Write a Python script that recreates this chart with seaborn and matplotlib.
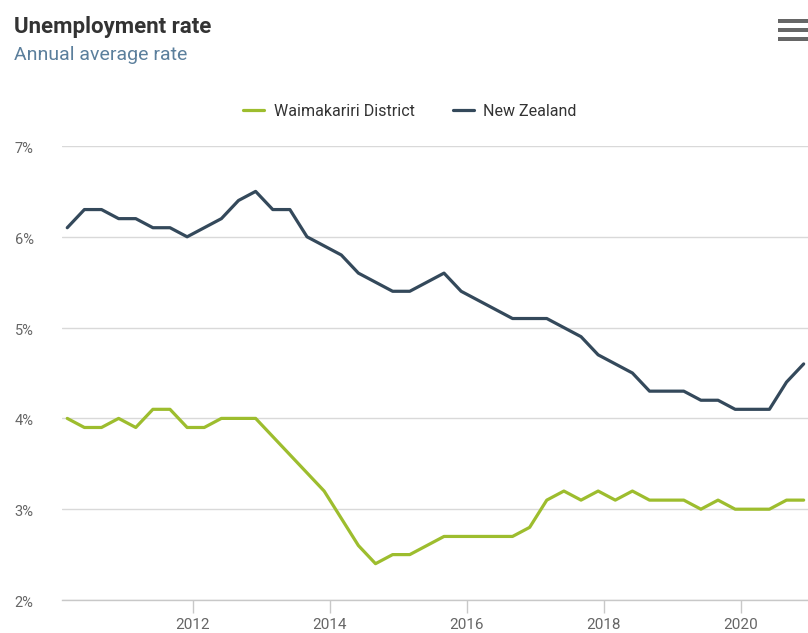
import numpy as np
import pandas as pd
import matplotlib
matplotlib.use("Agg")
import matplotlib.pyplot as plt
import matplotlib.transforms as mtransforms
from matplotlib.patches import Rectangle
from matplotlib.lines import Line2D
import seaborn as sns

# Quarterly observations, March 2010 to December 2020
start_year, start_month = 2010, 3
waimakariri = [4.0, 3.9, 3.9, 4.0, 3.9, 4.1, 4.1, 3.9, 3.9, 4.0, 4.0, 4.0,
               3.8, 3.6, 3.4, 3.2, 2.9, 2.6, 2.4, 2.5, 2.5, 2.6, 2.7, 2.7,
               2.7, 2.7, 2.7, 2.8, 3.1, 3.2, 3.1, 3.2, 3.1, 3.2, 3.1, 3.1,
               3.1, 3.0, 3.1, 3.0, 3.0, 3.0, 3.1, 3.1]
new_zealand = [6.1, 6.3, 6.3, 6.2, 6.2, 6.1, 6.1, 6.0, 6.1, 6.2, 6.4, 6.5,
               6.3, 6.3, 6.0, 5.9, 5.8, 5.6, 5.5, 5.4, 5.4, 5.5, 5.6, 5.4,
               5.3, 5.2, 5.1, 5.1, 5.1, 5.0, 4.9, 4.7, 4.6, 4.5, 4.3, 4.3,
               4.3, 4.2, 4.2, 4.1, 4.1, 4.1, 4.4, 4.6]
series_names = ["Waimakariri District", "New Zealand"]
year_ticks = [2012, 2014, 2016, 2018, 2020]
pct_ticks = [2, 3, 4, 5, 6, 7]

n = len(new_zealand)
months = start_month - 1 + 3 * np.arange(n)
decimal_year = start_year + months // 12 + (months % 12) / 12.0

df = pd.DataFrame({
    "year": np.concatenate([decimal_year, decimal_year]),
    "rate": waimakariri + new_zealand,
    "area": [series_names[0]] * n + [series_names[1]] * n,
})

GREEN = "#9dbd2e"
SLATE = "#34495b"
palette = {series_names[0]: GREEN, series_names[1]: SLATE}

sns.set_theme(style="white")
plt.rcParams["font.family"] = ["Roboto", "DejaVu Sans"]

fig = plt.figure(figsize=(8.08, 6.33), dpi=100)
ax = fig.add_axes([62 / 808, 1 - 600 / 633, 746 / 808, 454 / 633])

sns.lineplot(data=df, x="year", y="rate", hue="area", palette=palette,
             hue_order=series_names[::-1], linewidth=2.3, ax=ax,
             legend=False, solid_joinstyle="round", solid_capstyle="round",
             clip_on=False, zorder=3)

ax.set_xlim(2010.09, 2020.98)
ax.set_ylim(2, 7)
ax.set_xticks(year_ticks)
ax.set_xticklabels([str(y) for y in year_ticks])
ax.set_yticks(pct_ticks)
ax.set_yticklabels([f"{p}%" for p in pct_ticks])
ax.set_xlabel("")
ax.set_ylabel("")

ax.grid(axis="y", color="#d9d9d9", linewidth=1.0)
ax.grid(axis="x", visible=False)
for side in ["top", "right", "left"]:
    ax.spines[side].set_visible(False)
ax.spines["bottom"].set_color("#c8c8c8")
ax.spines["bottom"].set_linewidth(1.0)

ax.tick_params(axis="x", which="both", bottom=True, length=9, width=1,
               color="#c8c8c8", labelsize=11, labelcolor="#666666", pad=4)
ax.tick_params(axis="y", length=0, labelsize=10.5, labelcolor="#666666", pad=34)
shift_down = mtransforms.ScaledTranslation(0, -3 / 100, fig.dpi_scale_trans)
for lbl in ax.get_yticklabels():
    lbl.set_horizontalalignment("left")
    lbl.set_verticalalignment("center")
    lbl.set_transform(lbl.get_transform() + shift_down)

# Title and subtitle
fig.text(14 / 808, 1 - 27 / 633, "Unemployment rate", fontsize=16,
         fontweight="bold", color="#333333", va="center", ha="left")
fig.text(14 / 808, 1 - 55 / 633, "Annual average rate", fontsize=14,
         color="#5b7f9c", va="center", ha="left")

# Legend across the top
handles = [Line2D([0], [0], color=GREEN, lw=2.3),
           Line2D([0], [0], color=SLATE, lw=2.3)]
fig.legend(handles, series_names, loc="center", bbox_to_anchor=(410 / 808, 1 - 111 / 633),
           ncol=2, frameon=False, fontsize=11.5, handlelength=1.3,
           handletextpad=0.6, columnspacing=2.4, labelcolor="#333333")

# Menu icon in the top-right corner
for yc in (21, 30, 38.5):
    fig.patches.append(Rectangle((778 / 808, 1 - (yc + 2) / 633), 30 / 808, 4 / 633,
                                 transform=fig.transFigure, color="#666666",
                                 linewidth=0))

fig.savefig("out.png", dpi=100, facecolor="white")
